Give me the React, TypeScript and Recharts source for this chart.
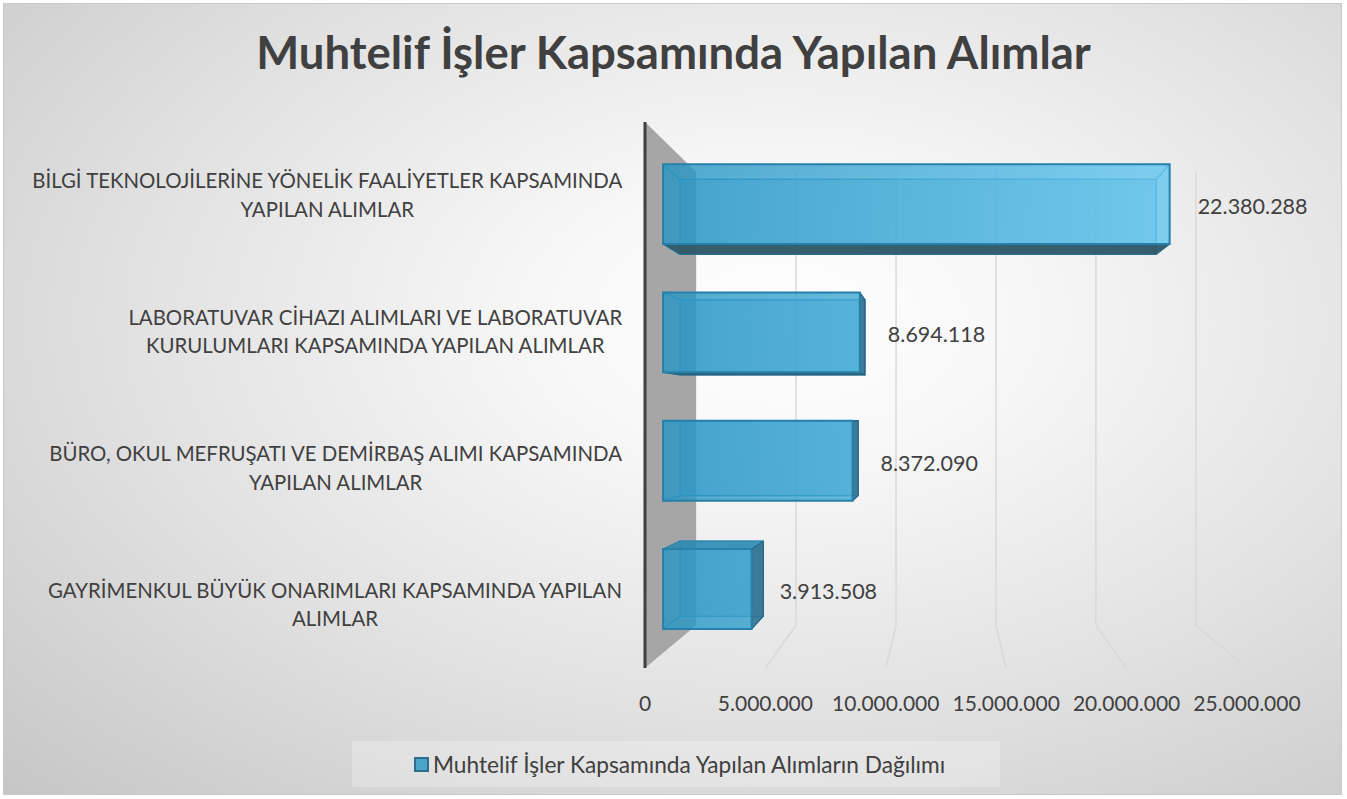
import React from "react";
import { BarChart, Bar, XAxis, YAxis, CartesianGrid, LabelList } from "recharts";

const title = "Muhtelif İşler Kapsamında Yapılan Alımlar";
const seriesName = "Muhtelif İşler Kapsamında Yapılan Alımların Dağılımı";

const categories = [
  "BİLGİ TEKNOLOJİLERİNE YÖNELİK FAALİYETLER KAPSAMINDA\nYAPILAN ALIMLAR",
  "LABORATUVAR CİHAZI ALIMLARI VE LABORATUVAR\nKURULUMLARI KAPSAMINDA YAPILAN ALIMLAR",
  "BÜRO, OKUL MEFRUŞATI VE DEMİRBAŞ ALIMI KAPSAMINDA\nYAPILAN ALIMLAR",
  "GAYRİMENKUL BÜYÜK ONARIMLARI KAPSAMINDA YAPILAN\nALIMLAR",
];
const values = [22380288, 8694118, 8372090, 3913508];
const xTicks = [0, 5000000, 10000000, 15000000, 20000000, 25000000];

const data = categories.map((name, i) => ({ name, value: values[i] }));

const W = 1347;
const H = 799;
const FONT = "Lato, 'Open Sans', sans-serif";
const TEXT = "#404040";

// front plane of the 3D floor = recharts plot area
const margin = { top: 122, right: 100, bottom: 91, left: 0 };
const Y_AXIS_W = 645;
const X_AXIS_H = 40;
const plotLeft = margin.left + Y_AXIS_W;
const plotTop = margin.top;
const plotRight = W - margin.right;
const plotBottom = H - margin.bottom - X_AXIS_H;

// simple perspective: everything shrinks toward a vanishing point
const vp = { x: (plotLeft + plotRight) / 2, y: plotTop + (plotBottom - plotTop) * 0.54 };
const K_FLOOR = 0.83;
const K_BAR_FRONT = 0.94;
const K_BAR_BACK = 0.94 * 0.94;

const proj = (x: number, y: number, k: number) => ({
  x: vp.x + (x - vp.x) * k,
  y: vp.y + (y - vp.y) * k,
});
const poly = (pts: { x: number; y: number }[]) => pts.map((p) => `${p.x},${p.y}`).join(" ");

const fmt = (v: number) => String(v).replace(/\B(?=(\d{3})+(?!\d))/g, ".");

let ctx: CanvasRenderingContext2D | null = null;
function textWidth(s: string, font: string) {
  if (!ctx) ctx = document.createElement("canvas").getContext("2d");
  if (!ctx) return s.length * 10;
  ctx.font = font;
  return ctx.measureText(s).width;
}

const LABEL_SIZE = 20.4;
const LINE_H = 28.5;

function CategoryTick(props: any) {
  const { x, y, payload } = props;
  const lines = String(payload.value).split("\n");
  const maxW = Math.max(...lines.map((l) => textWidth(l, `${LABEL_SIZE}px ${FONT}`)));
  const cx = x - maxW / 2;
  const y0 = y + 4 - ((lines.length - 1) * LINE_H) / 2;
  return (
    <g>
      {lines.map((l, i) => (
        <text
          key={i}
          x={cx}
          y={y0 + i * LINE_H}
          textAnchor="middle"
          dominantBaseline="central"
          fontSize={LABEL_SIZE}
          fontFamily={FONT}
          fill={TEXT}
        >
          {l}
        </text>
      ))}
    </g>
  );
}

function GridLine(props: any) {
  const { x1, y1, y2, index } = props;
  if (Math.abs(x1 - plotLeft) < 1) {
    // the left wall sits on the zero line
    const ft = { x: x1, y: y1 };
    const fb = { x: x1, y: y2 };
    const bt = proj(x1, y1, K_FLOOR);
    const bb = proj(x1, y2, K_FLOOR);
    return <polygon key={`wall-${index}`} points={poly([ft, bt, bb, fb])} fill="#a6a6a6" />;
  }
  const bb = proj(x1, y2, K_FLOOR);
  const bt = proj(x1, y1, K_FLOOR);
  return (
    <polyline
      key={`g-${index}`}
      points={poly([{ x: x1, y: y2 }, bb, { x: bb.x, y: bt.y }])}
      fill="none"
      stroke="#d9d9d9"
      strokeWidth={1.5}
    />
  );
}

function Box3D(props: any) {
  const { x, y, width, height, index } = props;
  const corners = (k: number) => [
    proj(x, y, k),
    proj(x + width, y, k),
    proj(x + width, y + height, k),
    proj(x, y + height, k),
  ];
  const f = corners(K_BAR_FRONT);
  const b = corners(K_BAR_BACK);
  const seeBottom = f[3].y < vp.y;
  const seeTop = f[0].y > vp.y;
  const seeRight = f[1].x < vp.x;
  const gx1 = proj(plotLeft, 0, K_BAR_FRONT).x;
  const gx2 = proj(plotLeft + (plotRight - plotLeft) * 0.9, 0, K_BAR_FRONT).x;
  const gid = `barGrad-${index}`;
  const edge = "#2a86b0";
  return (
    <g>
      <defs>
        <linearGradient id={gid} gradientUnits="userSpaceOnUse" x1={gx1} y1={0} x2={gx2} y2={0}>
          <stop offset="0%" stopColor="#2795c4" />
          <stop offset="100%" stopColor="#62c6f0" />
        </linearGradient>
      </defs>
      {/* back face */}
      <polygon points={poly(b)} fill="#2a8fbf" fillOpacity={0.3} stroke={edge} strokeWidth={1.2} />
      {/* connecting edges */}
      {[0, 1, 2, 3].map((i) => (
        <line key={i} x1={f[i].x} y1={f[i].y} x2={b[i].x} y2={b[i].y} stroke={edge} strokeWidth={1.2} />
      ))}
      {seeBottom && (
        <polygon points={poly([f[3], f[2], b[2], b[3]])} fill="#2e5867" fillOpacity={0.95} stroke="#2a6f8f" strokeWidth={1} />
      )}
      {seeTop && (
        <polygon points={poly([f[0], f[1], b[1], b[0]])} fill="#2c88b0" fillOpacity={0.85} stroke={edge} strokeWidth={1} />
      )}
      {seeRight && (
        <polygon points={poly([f[1], f[2], b[2], b[1]])} fill="#2f7190" fillOpacity={0.9} stroke="#25617d" strokeWidth={1} />
      )}
      {/* front face */}
      <polygon points={poly(f)} fill={`url(#${gid})`} fillOpacity={0.8} stroke="#2680aa" strokeWidth={2} />
    </g>
  );
}

function ValueLabel(props: any) {
  const { x, y, width, height, value } = props;
  const end = proj(x + width, y + height / 2, K_BAR_FRONT);
  return (
    <text
      x={end.x + 28}
      y={end.y + 2}
      dominantBaseline="central"
      fontSize={21.5}
      fontFamily={FONT}
      fill={TEXT}
    >
      {fmt(Number(value))}
    </text>
  );
}

export default function App() {
  return (
    <div style={{ position: "absolute", left: 0, top: 0, width: W, height: H, background: "#fff" }}>
      <div
        style={{
          position: "absolute",
          left: 3,
          top: 3,
          width: 1339,
          height: 792,
          boxSizing: "border-box",
          border: "1px solid #c9c9c9",
          background:
            "radial-gradient(ellipse farthest-corner at 58% 40%, #ffffff 0%, #f7f7f7 22%, #e2e2e2 58%, #c6c6c6 100%)",
        }}
      />
      <div
        style={{
          position: "absolute",
          left: 0,
          top: 23,
          width: W,
          textAlign: "center",
          fontFamily: FONT,
          fontWeight: 700,
          fontSize: 45.5,
          lineHeight: "58px",
          color: TEXT,
        }}
      >
        {title}
      </div>
      <div style={{ position: "absolute", left: 0, top: 0 }}>
        <BarChart width={W} height={H} data={data} layout="vertical" margin={margin} barSize={85}>
          <CartesianGrid horizontal={false} vertical={GridLine} />
          <XAxis
            type="number"
            domain={[0, 25000000]}
            ticks={xTicks}
            tickFormatter={fmt}
            axisLine={false}
            tickLine={false}
            tickSize={6}
            tickMargin={22}
            height={X_AXIS_H}
            tick={{ fontSize: 21, fontFamily: FONT, fill: TEXT }}
            interval={0}
          />
          <YAxis
            type="category"
            dataKey="name"
            width={Y_AXIS_W}
            axisLine={{ stroke: "#404040", strokeWidth: 3 }}
            tickLine={false}
            tickSize={6}
            tickMargin={16}
            tick={<CategoryTick />}
            interval={0}
          />
          <Bar dataKey="value" name={seriesName} shape={<Box3D />} isAnimationActive={false}>
            <LabelList dataKey="value" content={<ValueLabel />} />
          </Bar>
        </BarChart>
      </div>
      <div
        style={{
          position: "absolute",
          left: 352,
          top: 741,
          width: 648,
          height: 46,
          background: "rgba(255,255,255,0.25)",
        }}
      />
      <div
        style={{
          position: "absolute",
          left: 414,
          top: 749,
          height: 30,
          display: "flex",
          alignItems: "center",
          fontFamily: FONT,
          fontSize: 22.7,
          color: TEXT,
        }}
      >
        <span
          style={{
            display: "inline-block",
            width: 11,
            height: 11,
            background: "#4aa3c8",
            border: "2px solid #2f6f8d",
            marginRight: 4,
          }}
        />
        {seriesName}
      </div>
    </div>
  );
}
